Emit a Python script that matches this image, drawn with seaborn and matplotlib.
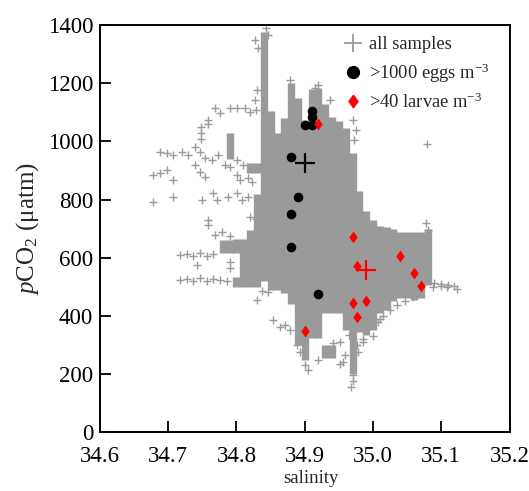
import numpy as np
import pandas as pd
import matplotlib
matplotlib.use("Agg")
import matplotlib.pyplot as plt
from matplotlib.lines import Line2D
import seaborn as sns

# ---------------- data ----------------
# dense core of "all samples": per salinity column, solid pCO2 ranges
core_sal = [34.78, 34.79, 34.79, 34.80, 34.80, 34.81, 34.82, 34.82, 34.83, 34.83,
            34.84, 34.85, 34.86, 34.87, 34.88, 34.89, 34.90, 34.91, 34.92, 34.93,
            34.93, 34.94, 34.94, 34.95, 34.96, 34.97, 34.98, 34.99, 35.00, 35.01,
            35.02, 35.03, 35.04, 35.05, 35.06, 35.07, 35.08]
core_lo = [615, 615, 940, 615, 500, 500, 500, 890, 500, 890,
           520, 490, 490, 480, 440, 300, 250, 325, 325, 410,
           255, 410, 255, 410, 350, 200, 345, 335, 350, 410,
           420, 450, 460, 460, 455, 460, 505]
core_hi = [660, 660, 1030, 665, 535, 665, 695, 925, 820, 925,
           1375, 1105, 1030, 1080, 1200, 1150, 1075, 1180, 1185, 1130,
           300, 1085, 300, 1070, 1045, 960, 830, 760, 730, 710,
           705, 700, 690, 690, 690, 690, 700]

# scattered individual samples
samp_sal = [34.769, 34.776, 34.791, 34.801, 34.813, 34.820, 34.829, 34.758, 34.758, 34.748,
            34.748, 34.748, 34.688, 34.698, 34.707, 34.720, 34.729, 34.678, 34.688, 34.698,
            34.707, 34.739, 34.747, 34.754, 34.739, 34.747, 34.754, 34.764, 34.773, 34.783,
            34.791, 34.801, 34.810, 34.801, 34.817, 34.823, 34.805, 34.678, 34.707, 34.750,
            34.766, 34.772, 34.788, 34.801, 34.808, 34.817, 34.758, 34.758, 34.820, 34.829,
            34.769, 34.779, 34.791, 34.717, 34.728, 34.736, 34.747, 34.757, 34.766, 34.717,
            34.728, 34.736, 34.747, 34.757, 34.766, 34.776, 34.786, 34.742, 34.791, 34.791,
            34.830, 34.838, 34.846, 35.079, 34.971, 34.975, 34.972, 35.078, 35.081, 35.088,
            35.099, 35.109, 35.119, 35.123, 35.059, 35.047, 35.035, 35.025, 35.015, 35.008,
            34.970, 34.970, 34.968, 34.959, 34.978, 34.956, 34.942, 34.952, 34.871, 34.879,
            34.854, 34.864, 34.889, 34.893, 34.920, 34.952, 34.827, 34.832, 34.830, 34.827,
            34.843, 34.846, 34.879, 34.920, 34.915, 34.937, 34.970, 34.976, 34.985, 35.000,
            35.010, 35.090, 35.100, 35.110, 34.900, 34.905, 34.965, 34.975, 34.985]
samp_pco2 = [1115, 1098, 1115, 1115, 1115, 1101, 1108, 1074, 1060, 1050,
             1029, 1009, 963, 960, 953, 963, 953, 884, 891, 902,
             867, 981, 963, 943, 919, 895, 877, 936, 953, 919,
             912, 936, 919, 884, 874, 861, 867, 792, 809, 799,
             823, 799, 809, 823, 799, 809, 730, 713, 740, 733,
             678, 688, 675, 608, 612, 605, 615, 606, 612, 522,
             526, 520, 530, 521, 526, 524, 520, 576, 586, 566,
             455, 485, 482, 990, 1075, 1040, 1005, 720, 695, 500,
             503, 500, 503, 493, 465, 451, 438, 421, 400, 379,
             197, 177, 156, 266, 276, 243, 307, 310, 369, 352,
             386, 362, 300, 276, 249, 235, 1349, 1322, 1177, 1142,
             1391, 1367, 1211, 1194, 1184, 1141, 320, 300, 320, 330,
             390, 512, 510, 508, 230, 215, 335, 300, 310]

# >1000 eggs m^-3
eggs_sal = [34.91, 34.91, 34.90, 34.91, 34.88, 34.89, 34.88, 34.88, 34.92]
eggs_pco2 = [1105, 1085, 1055, 1055, 945, 810, 752, 637, 476]

# >40 larvae m^-3
larv_sal = [34.92, 34.97, 34.977, 35.04, 35.06, 35.07, 34.97, 34.99, 34.977, 34.90]
larv_pco2 = [1060, 672, 572, 607, 547, 504, 445, 452, 397, 349]

# means
mean_eggs = (34.90, 927)
mean_larv = (34.99, 558)

x_ticks = [34.6, 34.7, 34.8, 34.9, 35.0, 35.1, 35.2]
y_ticks = [0, 200, 400, 600, 800, 1000, 1200, 1400]

# ---------------- style ----------------
sns.set_style("ticks")
plt.rcParams["font.family"] = ["Liberation Serif", "DejaVu Serif"]
plt.rcParams["mathtext.fontset"] = "custom"
plt.rcParams["mathtext.rm"] = "Liberation Serif"
plt.rcParams["mathtext.it"] = "Liberation Serif:italic"
plt.rcParams["mathtext.bf"] = "Liberation Serif:bold"

GRAY = "#9a9a9a"

fig = plt.figure(figsize=(5.29, 4.91), dpi=100)
ax = fig.add_axes([100 / 529, (491 - 432.3) / 491, 409.5 / 529, 407.3 / 491])

# dense core of samples
ax.vlines(core_sal, core_lo, core_hi, colors=GRAY, linewidth=5.3, zorder=1)

samples = pd.DataFrame({"salinity": samp_sal, "pco2": samp_pco2})
sns.scatterplot(data=samples, x="salinity", y="pco2", marker="+", s=36,
                color=GRAY, linewidth=1.0, ax=ax, zorder=2)

eggs = pd.DataFrame({"salinity": eggs_sal, "pco2": eggs_pco2})
sns.scatterplot(data=eggs, x="salinity", y="pco2", marker="o", s=48,
                color="black", edgecolor="black", linewidth=0, ax=ax, zorder=4)

diamond = [(0, 1), (0.72, 0), (0, -1), (-0.72, 0), (0, 1)]
larv = pd.DataFrame({"salinity": larv_sal, "pco2": larv_pco2})
sns.scatterplot(data=larv, x="salinity", y="pco2", marker=diamond, s=72,
                color="red", edgecolor="red", linewidth=0, ax=ax, zorder=5)

sns.scatterplot(x=[mean_eggs[0]], y=[mean_eggs[1]], marker="+", s=190,
                color="black", linewidth=1.6, ax=ax, zorder=6)
sns.scatterplot(x=[mean_larv[0]], y=[mean_larv[1]], marker="+", s=190,
                color="red", linewidth=1.6, ax=ax, zorder=6)

ax.set_xlim(34.6, 35.2)
ax.set_ylim(0, 1400)
ax.set_xticks(x_ticks)
ax.set_yticks(y_ticks)
ax.set_xticklabels(["%.1f" % v for v in x_ticks])
ax.set_yticklabels([str(v) for v in y_ticks])
ax.tick_params(axis="both", direction="in", length=8, width=1.3,
               labelsize=16.5, colors="black")
ax.tick_params(axis="x", pad=10)
ax.tick_params(axis="y", pad=5)
for sp in ax.spines.values():
    sp.set_visible(True)
    sp.set_linewidth(1.4)
    sp.set_color("black")

ax.set_xlabel("salinity", fontsize=13.5)
ax.xaxis.set_label_coords(0.516, -0.093)
ax.set_ylabel(r"$p$CO$_2$ (μatm)", fontsize=18, labelpad=5)

handles = [
    Line2D([], [], ls="", marker="+", color=GRAY, markersize=13, markeredgewidth=1.3),
    Line2D([], [], ls="", marker="o", color="black", markersize=8.5),
    Line2D([], [], ls="", marker=diamond, color="red", markersize=9),
]
labels = ["all samples", ">1000 eggs m$^{-3}$", ">40 larvae m$^{-3}$"]
ax.legend(handles, labels, loc="upper left", bbox_to_anchor=(0.578, 0.99),
          borderaxespad=0, frameon=False, fontsize=13.3, handlelength=1.0,
          handletextpad=0.35, labelspacing=0.42, borderpad=0.4)

fig.savefig("out.png", dpi=100)
